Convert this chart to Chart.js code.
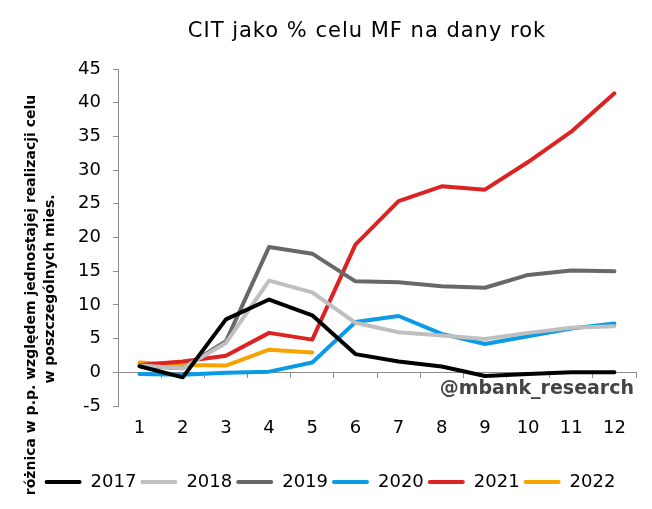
<!DOCTYPE html>
<html>
<head>
<meta charset="utf-8">
<script src="https://cdn.jsdelivr.net/npm/chart.js@4/dist/chart.umd.min.js"></script>
<style>
  html, body { margin: 0; padding: 0; background: #fff; }
  canvas { display: block; }
</style>
</head>
<body>
<canvas id="citChart" width="652" height="509"></canvas>
<script>
// dane
const months = ['1', '2', '3', '4', '5', '6', '7', '8', '9', '10', '11', '12'];
const years = ['2017', '2018', '2019', '2020', '2021', '2022'];
const colors = ['#000000', '#bfbfbf', '#686868', '#0a9be6', '#dc2222', '#f7a400'];

const cit2017 = [0.9, -0.75, 7.85, 10.8, 8.45, 2.7, 1.6, 0.85, -0.55, -0.25, 0.0, 0.0];
const cit2018 = [1.0, 0.6, 4.35, 13.6, 11.85, 7.35, 5.95, 5.45, 4.95, 5.85, 6.6, 6.85];
const cit2019 = [0.95, 0.6, 4.6, 18.6, 17.6, 13.5, 13.35, 12.75, 12.55, 14.45, 15.1, 15.0];
const cit2020 = [-0.25, -0.35, -0.05, 0.1, 1.45, 7.45, 8.35, 5.7, 4.2, 5.35, 6.5, 7.25];
const cit2021 = [1.1, 1.6, 2.45, 5.85, 4.85, 18.95, 25.4, 27.6, 27.1, 31.2, 35.7, 41.4];
const cit2022 = [1.45, 1.1, 1.0, 3.35, 2.95];

const yTicks = [-5, 0, 5, 10, 15, 20, 25, 30, 35, 40, 45];

const seriesValues = [cit2017, cit2018, cit2019, cit2020, cit2021, cit2022];

const axisGray = '#8c8c8c';

Chart.defaults.font.family = "'DejaVu Sans', Verdana, sans-serif";
Chart.defaults.color = '#000';

// tytul, opis osi Y i podpis - rysowane recznie
const textPlugin = {
  id: 'extraText',
  afterDraw(chart) {
    const ctx = chart.ctx;
    ctx.save();
    ctx.fillStyle = '#000';
    ctx.font = "21px 'DejaVu Sans'";
    ctx.letterSpacing = '1px';
    ctx.textAlign = 'center';
    ctx.textBaseline = 'middle';
    ctx.fillText('CIT jako % celu MF na dany rok', 367, 32);
    ctx.letterSpacing = '0px';

    ctx.save();
    ctx.translate(31, 295);
    ctx.rotate(-Math.PI / 2);
    ctx.font = "bold 14px 'DejaVu Sans'";
    ctx.fillText('różnica w p.p. względem jednostajej realizacji celu', 0, 0);
    ctx.restore();
    ctx.save();
    ctx.translate(50, 289);
    ctx.rotate(-Math.PI / 2);
    ctx.font = "bold 14px 'DejaVu Sans'";
    ctx.fillText('w poszczególnych mies.', 0, 0);
    ctx.restore();

    ctx.fillStyle = '#444';
    ctx.font = "bold 19px 'DejaVu Sans'";
    ctx.textAlign = 'right';
    ctx.fillText('@mbank_research', 634, 389);
    ctx.restore();
  }
};

new Chart(document.getElementById('citChart'), {
  type: 'line',
  data: {
    labels: months,
    datasets: years.map((y, i) => ({
      label: y,
      data: seriesValues[i],
      borderColor: colors[i],
      backgroundColor: colors[i],
      borderWidth: 4,
      pointRadius: 0,
      tension: 0,
      borderJoinStyle: 'round',
      borderCapStyle: 'round'
    }))
  },
  options: {
    responsive: false,
    animation: false,
    layout: { padding: { left: 24, right: 16, top: 69, bottom: 8 } },
    plugins: {
      title: { display: false },
      tooltip: { enabled: false },
      legend: {
        position: 'bottom',
        labels: {
          boxWidth: 37,
          boxHeight: 4,
          padding: 4,
          useBorderRadius: true,
          borderRadius: 2,
          font: { size: 18 },
          color: '#000',
          generateLabels(chart) {
            return Chart.defaults.plugins.legend.labels.generateLabels(chart).map(l => {
              l.lineWidth = 0;
              l.fillStyle = l.strokeStyle;
              return l;
            });
          }
        }
      }
    },
    scales: {
      x: {
        type: 'category',
        position: 'bottom',
        offset: true,
        grid: { display: false },
        border: { display: false },
        ticks: { font: { size: 18 }, padding: 4, maxRotation: 0 },
        afterFit(scale) { scale.height = 63; }
      },
      x2: {
        type: 'category',
        position: { y: 0 },
        offset: true,
        grid: { offset: true, drawOnChartArea: false, tickLength: 5, color: axisGray },
        border: { display: true, color: axisGray, width: 1 },
        ticks: { display: false }
      },
      y: {
        min: yTicks[0],
        max: yTicks[yTicks.length - 1],
        afterBuildTicks(scale) { scale.ticks = yTicks.map(v => ({ value: v })); },
        grid: { drawOnChartArea: false, tickLength: 5, color: axisGray },
        border: { display: true, color: axisGray, width: 1 },
        ticks: { font: { size: 18 }, padding: 12 },
        afterFit(scale) { scale.width = 94; }
      }
    }
  },
  plugins: [textPlugin]
});
</script>
</body>
</html>
